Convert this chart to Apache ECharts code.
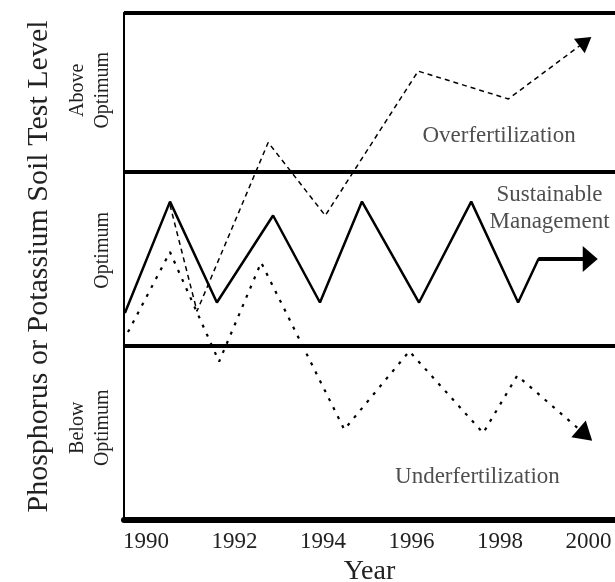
<!DOCTYPE html>
<html>
<head>
<meta charset="utf-8">
<script src="https://cdn.jsdelivr.net/npm/echarts@6/dist/echarts.min.js"></script>
<style>
  html, body { margin: 0; padding: 0; background: #fff; }
  #chart { width: 615px; height: 582px; }
</style>
</head>
<body>
<div id="chart"></div>
<script>
// year ticks on the bottom
var yearTicks = [1990, 1992, 1994, 1996, 1998, 2000]

// soil test level bands (0-1 below, 1-2 optimum, 2+ above)
var bandLabelValues = [0.53, 1.55, 2.47]
var bandLabels = ['Below\nOptimum', 'Optimum', 'Above\nOptimum']

// sustainable management (solid)
var solidYears = [1989.52, 1990.54, 1991.60, 1992.87, 1993.93, 1994.88, 1996.17, 1997.35, 1998.41, 1998.87, 2000.04]
var solidLevels = [1.19, 1.83, 1.25, 1.75, 1.25, 1.83, 1.25, 1.83, 1.25, 1.50, 1.50]

// overfertilization (dashed)
var overYears = [1990.54, 1991.15, 1992.76, 1994.05, 1996.15, 1998.19, 1999.93]
var overLevels = [1.81, 1.20, 2.17, 1.75, 2.58, 2.42, 2.75]

// underfertilization (dotted)
var underYears = [1989.59, 1990.54, 1991.65, 1992.60, 1994.48, 1995.95, 1997.62, 1998.39, 1999.93]
var underLevels = [1.08, 1.54, 0.91, 1.48, 0.52, 0.97, 0.50, 0.83, 0.49]

// text notes in the plot
var noteTexts = ['Overfertilization', 'Sustainable\nManagement', 'Underfertilization']
var noteYears = [1997.98, 1999.12, 1997.49]
var noteLevels = [2.21, 1.79, 0.25]

var serif = 'Liberation Serif'
var ink = '#222'

function pairs(xs, ys) {
  return xs.map(function (x, i) { return [x, ys[i]] })
}

// last segment gets the arrow head
function arrowLine(xs, ys, style, size) {
  var n = xs.length
  return {
    silent: true,
    symbol: ['none', 'triangle'],
    symbolSize: size,
    lineStyle: style,
    label: { show: false },
    data: [[{ coord: [xs[n - 2], ys[n - 2]] }, { coord: [xs[n - 1], ys[n - 1]] }]]
  }
}

var solidStyle = { color: '#000', width: 2.5, type: 'solid' }
var overStyle = { color: '#000', width: 1.5, type: [5, 4] }
var underStyle = { color: '#000', width: 2.2, type: [3, 7] }
// only the head is wanted for these two, the series draws the segment
var headOnly = { color: '#000', width: 0, opacity: 1 }

var chart = echarts.init(document.getElementById('chart'))
var option = {
  animation: false,
  grid: { left: 124, right: 0, top: 13, bottom: 62, outerBoundsMode: 'none', containLabel: false },
  xAxis: [{
    type: 'value',
    min: 1989.5,
    max: 2000.6,
    name: 'Year',
    nameLocation: 'middle',
    nameGap: 34,
    nameTextStyle: { fontFamily: serif, fontSize: 28, color: ink },
    axisLine: { show: true, onZero: false, lineStyle: { color: '#000', width: 6 } },
    axisTick: { show: false },
    splitLine: { show: false },
    axisLabel: {
      customValues: yearTicks,
      margin: 10,
      fontFamily: serif,
      fontSize: 23,
      color: ink,
      formatter: function (v) { return String(v) }
    }
  }, {
    type: 'value',
    position: 'top',
    min: 1989.5,
    max: 2000.6,
    axisLine: { show: true, onZero: false, lineStyle: { color: '#000', width: 2 } },
    axisTick: { show: false },
    axisLabel: { show: false },
    splitLine: { show: false }
  }],
  yAxis: {
    type: 'value',
    min: 0,
    max: 2.914,
    interval: 1,
    name: 'Phosphorus or Potassium Soil Test Level',
    nameLocation: 'middle',
    nameGap: 70,
    nameTextStyle: { fontFamily: serif, fontSize: 30, color: ink },
    axisLine: { show: true, lineStyle: { color: '#000', width: 2 } },
    axisTick: { show: false },
    splitLine: { show: true, lineStyle: { color: '#000', width: 4 } },
    axisLabel: {
      customValues: bandLabelValues,
      rotate: 90,
      margin: 9,
      align: 'center',
      verticalAlign: 'bottom',
      fontFamily: serif,
      fontSize: 20,
      lineHeight: 25,
      color: ink,
      formatter: function (v) {
        var i = bandLabelValues.indexOf(v)
        return i >= 0 ? bandLabels[i] : ''
      }
    }
  },
  series: [{
    name: 'Underfertilization',
    type: 'line',
    data: pairs(underYears, underLevels),
    symbol: 'none',
    lineStyle: underStyle,
    markLine: arrowLine(underYears, underLevels, headOnly, [22, 18])
  }, {
    name: 'Overfertilization',
    type: 'line',
    data: pairs(overYears, overLevels),
    symbol: 'none',
    lineStyle: overStyle,
    markLine: arrowLine(overYears, overLevels, headOnly, [18, 15])
  }, {
    name: 'Sustainable Management',
    type: 'line',
    data: pairs(solidYears, solidLevels),
    symbol: 'none',
    lineStyle: solidStyle,
    markLine: arrowLine(solidYears, solidLevels, { color: '#000', width: 4, type: 'solid' }, [26, 15])
  }, {
    name: 'notes',
    type: 'scatter',
    silent: true,
    symbolSize: 1,
    itemStyle: { color: 'transparent' },
    data: pairs(noteYears, noteLevels).map(function (p, i) {
      return { value: p, name: noteTexts[i] }
    }),
    label: {
      show: true,
      position: 'inside',
      formatter: '{b}',
      fontFamily: serif,
      fontSize: 23,
      lineHeight: 27,
      color: ink
    }
  }]
}
chart.setOption(option)
</script>
</body>
</html>
